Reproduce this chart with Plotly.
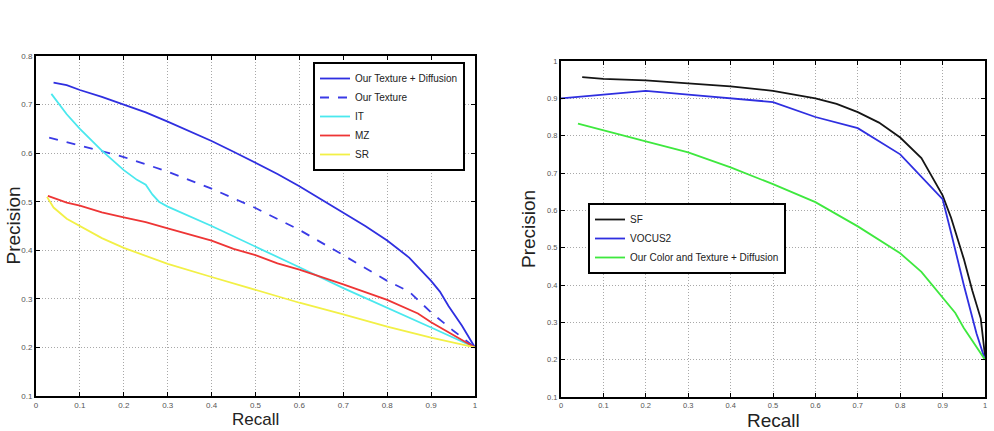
import plotly.graph_objects as go

# ---------------- data: left panel ----------------
tex_diff_r = [0.04, 0.07, 0.10, 0.15, 0.20, 0.25, 0.30, 0.35, 0.40, 0.45, 0.50, 0.55, 0.60, 0.65, 0.70, 0.75, 0.80, 0.85, 0.90, 0.92, 0.94, 0.97, 1.00]
tex_diff_p = [0.745, 0.740, 0.730, 0.716, 0.700, 0.684, 0.665, 0.645, 0.625, 0.603, 0.580, 0.557, 0.532, 0.505, 0.477, 0.450, 0.420, 0.385, 0.337, 0.315, 0.285, 0.245, 0.200]

tex_r = [0.03, 0.10, 0.20, 0.30, 0.40, 0.50, 0.60, 0.70, 0.80, 0.85, 0.90, 0.95, 1.00]
tex_p = [0.632, 0.615, 0.592, 0.562, 0.527, 0.487, 0.442, 0.390, 0.337, 0.315, 0.272, 0.235, 0.200]

it_r = [0.035, 0.07, 0.10, 0.15, 0.20, 0.23, 0.25, 0.265, 0.28, 0.30, 0.40, 0.50, 0.60, 0.70, 0.80, 0.90, 1.00]
it_p = [0.722, 0.680, 0.650, 0.605, 0.565, 0.545, 0.535, 0.515, 0.500, 0.490, 0.450, 0.408, 0.365, 0.322, 0.282, 0.241, 0.200]

mz_r = [0.027, 0.05, 0.07, 0.10, 0.15, 0.20, 0.25, 0.30, 0.35, 0.40, 0.45, 0.50, 0.55, 0.60, 0.70, 0.80, 0.87, 0.90, 1.00]
mz_p = [0.512, 0.505, 0.498, 0.492, 0.478, 0.468, 0.458, 0.445, 0.432, 0.420, 0.403, 0.390, 0.373, 0.360, 0.330, 0.298, 0.270, 0.252, 0.200]

sr_r = [0.025, 0.04, 0.07, 0.10, 0.15, 0.20, 0.30, 0.40, 0.50, 0.60, 0.70, 0.80, 0.90, 1.00]
sr_p = [0.510, 0.488, 0.465, 0.450, 0.425, 0.405, 0.372, 0.345, 0.318, 0.292, 0.268, 0.243, 0.220, 0.200]

# ---------------- data: right panel ----------------
sf_r = [0.05, 0.10, 0.20, 0.30, 0.40, 0.50, 0.60, 0.65, 0.70, 0.75, 0.80, 0.85, 0.90, 0.92, 0.95, 0.97, 0.99, 1.00]
sf_p = [0.957, 0.952, 0.948, 0.940, 0.932, 0.920, 0.900, 0.885, 0.863, 0.835, 0.795, 0.740, 0.640, 0.580, 0.470, 0.385, 0.310, 0.210]

vocus_r = [0.00, 0.10, 0.20, 0.30, 0.40, 0.50, 0.60, 0.70, 0.80, 0.90, 0.92, 0.95, 0.98, 1.00]
vocus_p = [0.900, 0.910, 0.920, 0.910, 0.900, 0.890, 0.850, 0.820, 0.750, 0.630, 0.540, 0.400, 0.270, 0.200]

ours_r = [0.04, 0.10, 0.20, 0.30, 0.40, 0.50, 0.60, 0.70, 0.80, 0.85, 0.90, 0.93, 0.95, 1.00]
ours_p = [0.832, 0.815, 0.785, 0.755, 0.715, 0.670, 0.622, 0.557, 0.485, 0.435, 0.365, 0.325, 0.285, 0.200]

x_ticks = [0, 0.1, 0.2, 0.3, 0.4, 0.5, 0.6, 0.7, 0.8, 0.9, 1]
x_labels = ["0", "0.1", "0.2", "0.3", "0.4", "0.5", "0.6", "0.7", "0.8", "0.9", "1"]
y_ticks_left = [0.1, 0.2, 0.3, 0.4, 0.5, 0.6, 0.7, 0.8]
y_labels_left = ["0.1", "0.2", "0.3", "0.4", "0.5", "0.6", "0.7", "0.8"]
y_ticks_right = [0.1, 0.2, 0.3, 0.4, 0.5, 0.6, 0.7, 0.8, 0.9, 1.0]
y_labels_right = ["0.1", "0.2", "0.3", "0.4", "0.5", "0.6", "0.7", "0.8", "0.9", "1"]

FONT = "Liberation Sans, Arial, Helvetica, sans-serif"
W, H = 994, 431
LW = 1.8

fig = go.Figure()

left_series = [
    ("Our Texture + Diffusion", tex_diff_r, tex_diff_p, "#2f2fe0", "solid"),
    ("Our Texture", tex_r, tex_p, "#3a3ae6", "dash"),
    ("IT", it_r, it_p, "#4ae8ee", "solid"),
    ("MZ", mz_r, mz_p, "#ee3535", "solid"),
    ("SR", sr_r, sr_p, "#f2f046", "solid"),
]
for name, xs, ys, col, dash in left_series:
    fig.add_trace(go.Scatter(x=xs, y=ys, mode="lines", name=name,
                             line=dict(color=col, width=LW, dash=dash),
                             xaxis="x", yaxis="y", legend="legend"))

right_series = [
    ("SF", sf_r, sf_p, "#151515"),
    ("VOCUS2", vocus_r, vocus_p, "#2f2fe0"),
    ("Our Color and Texture + Diffusion", ours_r, ours_p, "#3ee83e"),
]
for name, xs, ys, col in right_series:
    fig.add_trace(go.Scatter(x=xs, y=ys, mode="lines", name=name,
                             line=dict(color=col, width=LW),
                             xaxis="x2", yaxis="y2", legend="legend2"))


def axis(domain, rng, tv, tt, anchor, fs):
    return dict(domain=domain, range=rng, tickvals=tv, ticktext=tt, anchor=anchor,
                showline=True, linecolor="black", linewidth=2, mirror="ticks",
                ticks="inside", ticklen=4, tickwidth=1.2, tickcolor="black",
                showgrid=True, gridcolor="#a8a8a8", griddash="1px,2px", gridwidth=1,
                zeroline=False, automargin=False,
                tickfont=dict(family=FONT, size=fs, color="#555555"))


# pixel geometry
Lx0, Lx1, Ly0, Ly1 = 36, 475, 56, 396
Rx0, Rx1, Ry0, Ry1 = 561, 985, 61, 397

fig.update_layout(
    width=W, height=H,
    margin=dict(l=0, r=0, t=0, b=0),
    paper_bgcolor="white", plot_bgcolor="white",
    font=dict(family=FONT),
    xaxis=axis([Lx0 / W, Lx1 / W], [0, 1], x_ticks, x_labels, "y", 8),
    yaxis=axis([(H - Ly1) / H, (H - Ly0) / H], [0.1, 0.8], y_ticks_left, y_labels_left, "x", 8),
    xaxis2=axis([Rx0 / W, Rx1 / W], [0, 1], x_ticks, x_labels, "y2", 7.5),
    yaxis2=axis([(H - Ry1) / H, (H - Ry0) / H], [0.1, 1.0], y_ticks_right, y_labels_right, "x2", 7.5),
    legend=dict(x=313 / W, y=(H - 62) / H, xanchor="left", yanchor="top",
                bgcolor="white", bordercolor="black", borderwidth=2,
                font=dict(family=FONT, size=10, color="#222")),
    legend2=dict(x=588 / W, y=(H - 203) / H, xanchor="left", yanchor="top",
                 bgcolor="white", bordercolor="black", borderwidth=2,
                 font=dict(family=FONT, size=10, color="#222")),
    showlegend=True,
)

# axis titles
fig.add_annotation(text="Recall", xref="paper", yref="paper",
                   x=(Lx0 + Lx1) / 2 / W, y=0, xanchor="center", yanchor="bottom",
                   showarrow=False, font=dict(family=FONT, size=17, color="#222"))
fig.add_annotation(text="Recall", xref="paper", yref="paper",
                   x=(Rx0 + Rx1) / 2 / W, y=(H - 420) / H, xanchor="center", yanchor="middle",
                   showarrow=False, font=dict(family=FONT, size=19, color="#222"))
fig.add_annotation(text="Precision", xref="paper", yref="paper",
                   x=0, y=(H - (Ly0 + Ly1) / 2) / H, xanchor="left", yanchor="middle",
                   textangle=-90, showarrow=False, font=dict(family=FONT, size=19, color="#222"))
fig.add_annotation(text="Precision", xref="paper", yref="paper",
                   x=528 / W, y=(H - (Ry0 + Ry1) / 2) / H, xanchor="center", yanchor="middle",
                   textangle=-90, showarrow=False, font=dict(family=FONT, size=19, color="#222"))

fig.write_html("out.html")
